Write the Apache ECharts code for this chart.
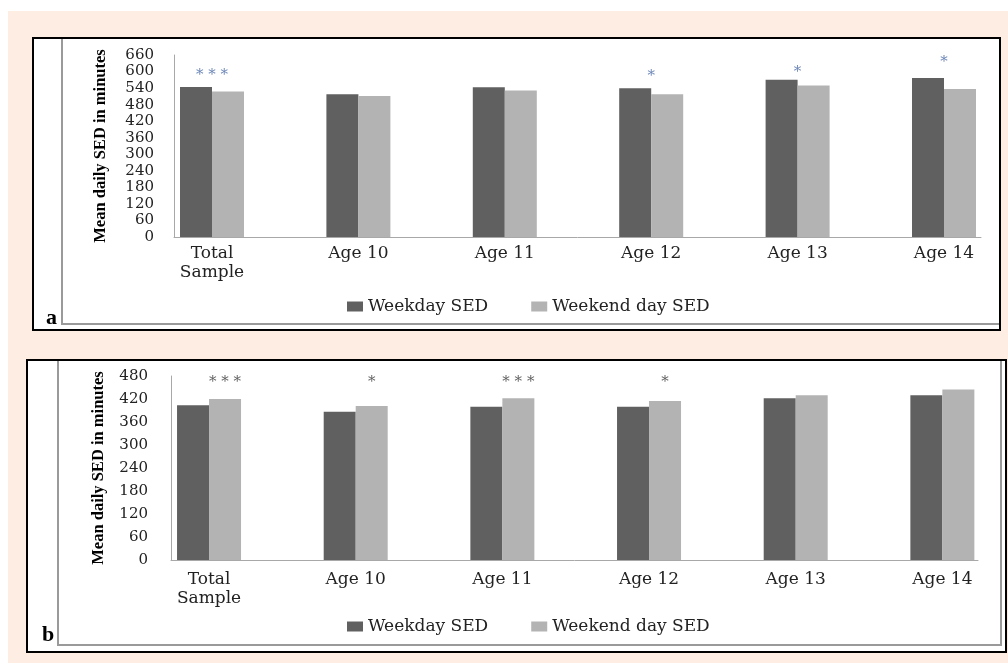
<!DOCTYPE html>
<html>
<head>
<meta charset="utf-8">
<title>Mean daily SED, weekday vs weekend day</title>
<script src="https://cdn.jsdelivr.net/npm/echarts@6/dist/echarts.min.js"></script>
<style>
  html, body { margin: 0; padding: 0; background: #ffffff; }
  #stage { position: relative; width: 1008px; height: 668px; overflow: hidden; }
  .sheet { position: absolute; left: 8px; top: 11px; width: 1000px; height: 652px; background: #fdede3; }
  .panel { position: absolute; background: #ffffff; border: 2px solid #000000; box-sizing: border-box; }
  #panelA { left: 32px; top: 37px; width: 969px; height: 294px; }
  #panelB { left: 26px; top: 359px; width: 981px; height: 294px; }
  .rule { position: absolute; background: #9a9a9a; }
  #chart { position: absolute; left: 0; top: 0; width: 1008px; height: 668px; }
</style>
</head>
<body>
<div id="stage">
  <div class="sheet"></div>
  <div class="panel" id="panelA"></div>
  <div class="panel" id="panelB"></div>
  <!-- inner frame rules of panel a -->
  <div class="rule" style="left:61px;top:39px;width:2px;height:286px;"></div>
  <div class="rule" style="left:61px;top:323px;width:938px;height:2px;"></div>
  <!-- inner frame rules of panel b -->
  <div class="rule" style="left:57px;top:361px;width:2px;height:285px;"></div>
  <div class="rule" style="left:57px;top:644px;width:945px;height:2px;"></div>
  <div class="rule" style="left:1000px;top:361px;width:2px;height:285px;"></div>
  <div id="chart"></div>
</div>
<script>
// Age groups shown on both panels
const categories = ['Total Sample', 'Age 10', 'Age 11', 'Age 12', 'Age 13', 'Age 14'];
const seriesNames = ['Weekday SED', 'Weekend day SED'];

// Panel a: mean daily SED (minutes)
const weekdayA = [544, 518, 543, 539, 570, 577];
const weekendA = [528, 511, 531, 518, 549, 537];
// significance markers and the level (minutes) they sit at
const sigA = ['* * *', '', '', '*', '*', '*'];
const sigLevelA = [587, null, null, 585, 599, 634];

// Panel b: mean daily SED (minutes)
const weekdayB = [404, 387, 400, 400, 422, 430];
const weekendB = [420, 402, 422, 415, 430, 445];
const sigB = ['* * *', '*', '* * *', '*', '', ''];
const sigLevelB = [464, 464, 464, 464, null, null];

const yMaxA = 660;
const yMaxB = 480;
const yStep = 60;

const SERIF = '"DejaVu Serif", "Liberation Serif", serif';
const TITLE_FONT = '"Liberation Serif", "Times New Roman", serif';
const DARK = '#606060';
const LIGHT = '#b3b3b3';
const AXIS_GRAY = '#a8a8a8';

const chart = echarts.init(document.getElementById('chart'), null, { renderer: 'canvas' });

const grid = [], xAxis = [], yAxis = [], series = [], legend = [], graphic = [];

function addPanel(p) {
  const axesGrid = grid.length;
  grid.push(Object.assign({ outerBoundsMode: 'none', containLabel: false }, p.axesBox));
  const barsGrid = grid.length;
  grid.push(Object.assign({ outerBoundsMode: 'none', containLabel: false }, p.barsBox));

  // frame axes: y scale with labels and title, plain baseline
  xAxis.push({
    gridIndex: axesGrid, type: 'category', data: categories, boundaryGap: true,
    axisLine: { show: true, lineStyle: { color: AXIS_GRAY, width: 1 } },
    axisTick: { show: false }, axisLabel: { show: false }, splitLine: { show: false }
  });
  yAxis.push({
    gridIndex: axesGrid, type: 'value', min: 0, max: p.yMax, interval: yStep,
    name: 'Mean daily SED in minutes', nameLocation: 'middle', nameGap: p.nameGap,
    nameTextStyle: { fontFamily: TITLE_FONT, fontWeight: 'bold', fontSize: 16.5, color: '#000' },
    axisLine: { show: true, lineStyle: { color: AXIS_GRAY, width: 1 } },
    axisTick: { show: false }, splitLine: { show: false },
    axisLabel: { fontFamily: SERIF, fontSize: 15, color: '#222', margin: p.yLabelMargin }
  });
  const xa = xAxis.length;
  // category axis that places the bar groups and their labels
  xAxis.push({
    gridIndex: barsGrid, type: 'category', data: categories, boundaryGap: true,
    axisLine: { show: false }, axisTick: { show: false }, splitLine: { show: false },
    axisLabel: {
      interval: 0, fontFamily: SERIF, fontSize: 17, color: '#222', lineHeight: 19,
      margin: p.xLabelMargin,
      formatter: v => v.replace('Total ', 'Total\n')
    }
  });
  const ya = yAxis.length;
  yAxis.push({ gridIndex: barsGrid, type: 'value', min: 0, max: p.yMax, interval: yStep, show: false });

  series.push({
    name: seriesNames[0], type: 'bar', xAxisIndex: xa, yAxisIndex: ya,
    data: p.weekday, barWidth: 32, barGap: '0%',
    itemStyle: { color: DARK }, silent: true
  });
  series.push({
    name: seriesNames[1], type: 'bar', xAxisIndex: xa, yAxisIndex: ya,
    data: p.weekend, barWidth: 32, barGap: '0%',
    itemStyle: { color: LIGHT }, silent: true
  });
  series.push({
    name: 'significance', type: 'scatter', xAxisIndex: xa, yAxisIndex: ya,
    symbolSize: 0, silent: true,
    data: p.sig.map((s, i) => s ? { value: [categories[i], p.sigLevel[i]], mark: s } : null)
               .filter(Boolean),
    label: {
      show: true, position: 'inside', offset: p.sigOffset,
      formatter: q => q.data.mark,
      fontFamily: SERIF, fontSize: 15, color: p.sigColor
    }
  });

  legend.push({
    data: seriesNames, left: 342, top: p.legendTop, orient: 'horizontal',
    icon: 'rect', itemWidth: 16, itemHeight: 10, itemGap: 43,
    textStyle: { fontFamily: SERIF, fontSize: 17, color: '#222' },
    selectedMode: false
  });

  graphic.push({
    type: 'text', left: p.tag.x, top: p.tag.y, z: 100,
    style: { text: p.tag.text, font: 'bold 22px "Liberation Serif", serif', fill: '#000' }
  });
}

addPanel({
  axesBox: { left: 174, top: 55, width: 807, height: 182 },
  barsBox: { left: 138.8, top: 55, width: 878.4, height: 182 },
  yMax: yMaxA, nameGap: 65, yLabelMargin: 20, xLabelMargin: 7,
  weekday: weekdayA, weekend: weekendA, sig: sigA, sigLevel: sigLevelA,
  sigOffset: [0, 0], sigColor: '#4a6aa6', legendTop: 293,
  tag: { text: 'a', x: 46, y: 307 }
});

addPanel({
  axesBox: { left: 171, top: 376, width: 807, height: 184 },
  barsBox: { left: 135.7, top: 376, width: 880, height: 184 },
  yMax: yMaxB, nameGap: 64, yLabelMargin: 23, xLabelMargin: 10,
  weekday: weekdayB, weekend: weekendB, sig: sigB, sigLevel: sigLevelB,
  sigOffset: [16, 0], sigColor: '#3a3a3a', legendTop: 613,
  tag: { text: 'b', x: 42, y: 624 }
});

chart.setOption({
  animation: false,
  backgroundColor: 'transparent',
  grid, xAxis, yAxis, series, legend, graphic
});
</script>
</body>
</html>
